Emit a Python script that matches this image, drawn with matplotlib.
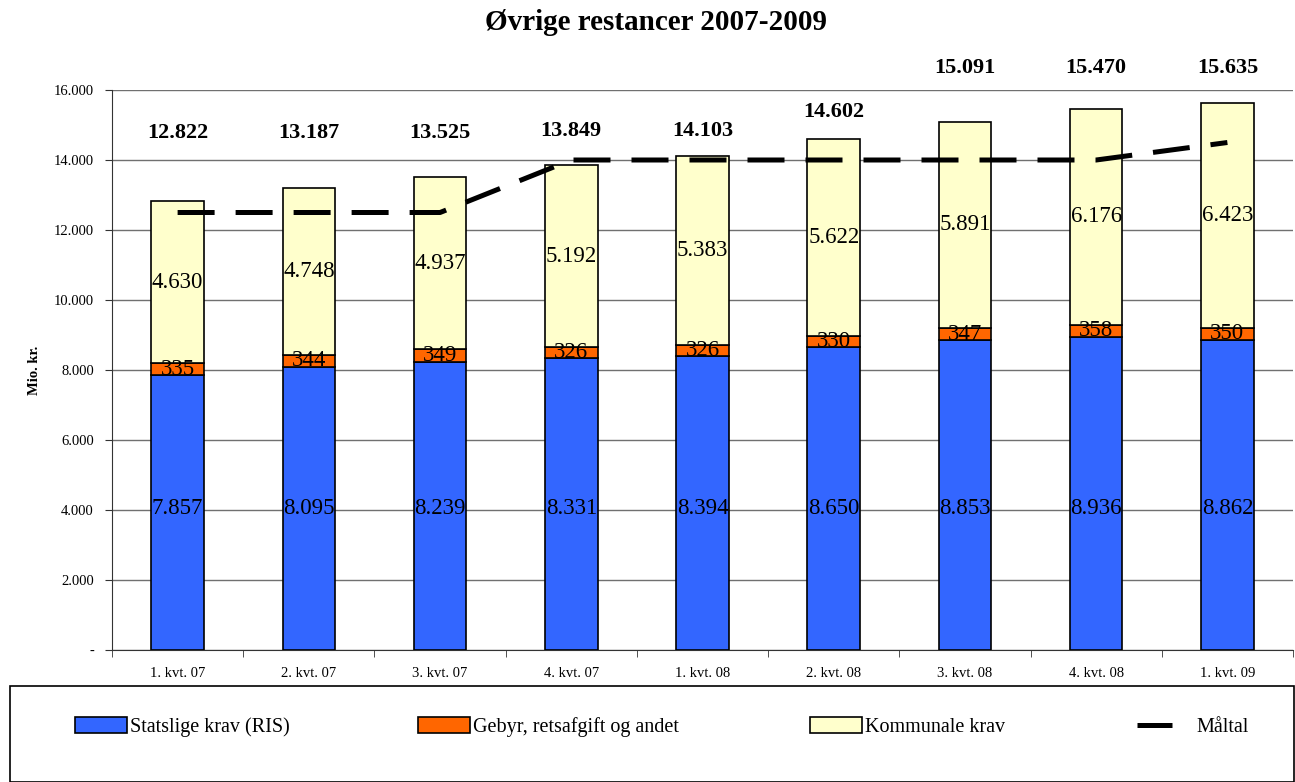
import matplotlib
matplotlib.use("Agg")
import matplotlib.pyplot as plt
from matplotlib.patches import Rectangle
import numpy as np

plt.rcParams['font.family'] = ['Liberation Serif', 'DejaVu Serif']

kvartaler = ['1. kvt. 07', '2. kvt. 07', '3. kvt. 07', '4. kvt. 07', '1. kvt. 08',
             '2. kvt. 08', '3. kvt. 08', '4. kvt. 08', '1. kvt. 09']
statslige = [7857, 8095, 8239, 8331, 8394, 8650, 8853, 8936, 8862]
gebyr = [335, 344, 349, 326, 326, 330, 347, 358, 350]
kommunale = [4630, 4748, 4937, 5192, 5383, 5622, 5891, 6176, 6423]
maaltal = [12500, 12500, 12500, 14000, 14000, 14000, 14000, 14000, 14500]
# hvor totalerne står (som i Excel-arket)
total_pos = [14780, 14780, 14780, 14830, 14830, 15370, 16630, 16630, 16630]


def dk(v):
    return f"{v:,.0f}".replace(",", ".")


fig = plt.figure(figsize=(12.95, 7.82), dpi=100)
ax = fig.add_axes([112/1295, 1 - 650/782, 1181/1295, 560/782])

x = np.arange(len(kvartaler))
w = 0.40
bund2 = np.array(statslige) + np.array(gebyr)
b1 = ax.bar(x, statslige, w, color='#3366FF', edgecolor='black', linewidth=1.2, zorder=3)
b2 = ax.bar(x, gebyr, w, bottom=statslige, color='#FF6600', edgecolor='black', linewidth=1.2, zorder=3)
b3 = ax.bar(x, kommunale, w, bottom=bund2, color='#FFFFCC', edgecolor='black', linewidth=1.2, zorder=3)
ln, = ax.plot(x, maaltal, color='black', lw=3.6, dashes=(7.4, 4.2), zorder=4)

total = bund2 + np.array(kommunale)
for i in range(len(x)):
    ax.text(x[i], 4050, dk(statslige[i]), ha='center', va='center', fontsize=16.5, zorder=5)
    ax.text(x[i], statslige[i] + gebyr[i] / 2, dk(gebyr[i]), ha='center', va='center', fontsize=16.5, zorder=5)
    ax.text(x[i], bund2[i] + kommunale[i] / 2, dk(kommunale[i]), ha='center', va='center', fontsize=16.5, zorder=5)
    ax.text(x[i], total_pos[i], dk(total[i]), ha='center', va='center', fontsize=16,
            fontweight='bold', clip_on=False)

ax.set_xlim(-0.5, len(x) - 0.5)
ax.set_ylim(0, 16000)
ax.set_yticks(range(0, 16001, 2000))
ax.set_yticklabels(['-'] + [dk(v) for v in range(2000, 16001, 2000)], fontsize=10.5)
ax.set_xticks(x)
ax.set_xticklabels(kvartaler, fontsize=10.5)
ax.set_xticks(np.arange(-0.5, len(x)), minor=True)
ax.tick_params(axis='x', which='major', length=0, pad=12)
ax.tick_params(axis='x', which='minor', length=5, direction='out', color='#333333')
ax.tick_params(axis='y', length=5, direction='out', pad=8, color='#333333')
ax.grid(axis='y', color='#707070', lw=1, zorder=0)
for s in ['top', 'right']:
    ax.spines[s].set_visible(False)
ax.spines['left'].set_color('#333333')
ax.spines['bottom'].set_color('#333333')

fig.text(35/1295, 1 - 370/782, 'Mio. kr.', rotation=90, ha='center', va='center',
         fontsize=10.5, fontweight='bold')
fig.text(656/1295, 1 - 22/782, 'Øvrige restancer 2007-2009', ha='center', va='center',
         fontsize=21, fontweight='bold')

fig.patches.append(Rectangle((10/1295, 0), 1284/1295, 96/782, transform=fig.transFigure,
                             fill=False, edgecolor='black', lw=1.2))

entries = [(b1, 'Statslige krav (RIS)', 75), (b2, 'Gebyr, retsafgift og andet', 418),
           (b3, 'Kommunale krav', 810)]
for h, lab, px in entries:
    fig.legend([h], [lab], loc='center left', bbox_to_anchor=(px/1295, 1 - 727/782),
               frameon=False, fontsize=14.5, handlelength=2.6, handleheight=0.8,
               handletextpad=0.15, borderpad=0, borderaxespad=0)
fig.legend([ln], ['Måltal'], loc='center left', bbox_to_anchor=(1137/1295, 1 - 727/782),
           frameon=False, fontsize=14.5, handlelength=1.75, handletextpad=1.2,
           borderpad=0, borderaxespad=0)

fig.savefig('out.png', dpi=100)
